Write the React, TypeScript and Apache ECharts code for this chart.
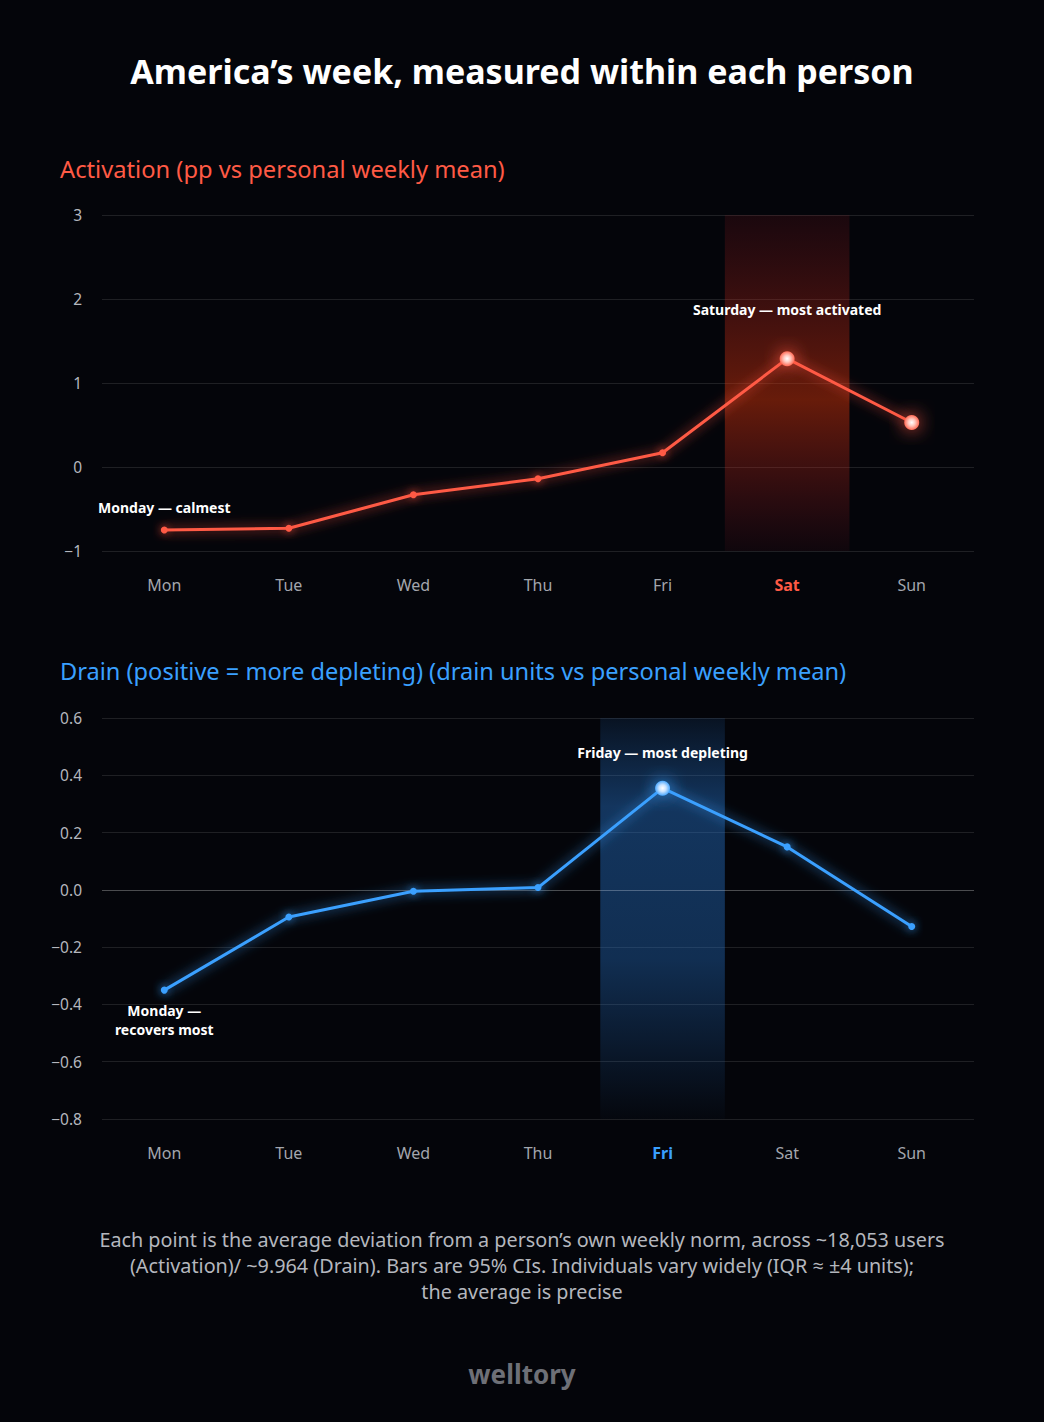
import React, { useEffect, useRef } from 'react';
import * as echarts from 'echarts';

const days = ['Mon', 'Tue', 'Wed', 'Thu', 'Fri', 'Sat', 'Sun'];
const activation = [-0.75, -0.73, -0.33, -0.14, 0.17, 1.29, 0.53];
const drain = [-0.35, -0.095, -0.005, 0.008, 0.355, 0.15, -0.128];
const activationTicks = [-1, 0, 1, 2, 3];
const drainTicks = [-0.8, -0.6, -0.4, -0.2, 0.0, 0.2, 0.4, 0.6];
const activationPeak = 'Sat';
const drainPeak = 'Fri';
const activationBig = ['Sat', 'Sun'];
const drainBig = ['Fri'];
const activationNotes = [
  { day: 'Sat', text: 'Saturday — most activated', pos: 'top' },
  { day: 'Mon', text: 'Monday — calmest', pos: 'top' },
];
const drainNotes = [
  { day: 'Fri', text: 'Friday — most depleting', pos: 'top' },
  { day: 'Mon', text: 'Monday —\nrecovers most', pos: 'bottom' },
];

const TITLE = 'America’s week, measured within each person';
const SUB1 = 'Activation (pp vs personal weekly mean)';
const SUB2 = 'Drain (positive = more depleting) (drain units vs personal weekly mean)';
const FOOT = [
  'Each point is the average deviation from a person’s own weekly norm, across ~18,053 users',
  '(Activation)/ ~9.964 (Drain). Bars are 95% CIs. Individuals vary widely (IQR ≈ ±4 units);',
  'the average is precise',
];
const BRAND = 'welltory';

const FONT = '"Noto Sans", "Open Sans", sans-serif';
const RED = '#ff5a45';
const BLUE = '#3aa0ff';

const fmtNum = (dec: number) => (v: number) => {
  const s = Math.abs(v).toFixed(dec);
  return v < -1e-9 ? '−' + s : s;
};

function buildPoints(values: number[], color: string, big: string[], notes: any[], bigStops: any[], distTop: number[]) {
  return values.map((v, i) => {
    const d = days[i];
    const isBig = big.includes(d);
    const note = notes.find((n) => n.day === d);
    const item: any = { value: v };
    if (isBig) {
      item.symbolSize = 15;
      item.itemStyle = {
        color: { type: 'radial', x: 0.5, y: 0.5, r: 0.5, colorStops: bigStops },
        shadowBlur: 18,
        shadowColor: color,
      };
    }
    if (note) {
      item.label = {
        show: true,
        position: note.pos,
        distance: note.pos === 'top' ? (isBig ? distTop[0] : distTop[1]) : 7,
        formatter: note.text,
        color: '#ffffff',
        fontWeight: 'bold',
        fontSize: 14,
        lineHeight: 19,
        fontFamily: FONT,
        align: 'center',
      };
    }
    return item;
  });
}

function axisStep(t: number[]) {
  return Math.round((t[1] - t[0]) * 1000) / 1000;
}

export default function App() {
  const ref = useRef<HTMLDivElement>(null);
  useEffect(() => {
    document.body.style.margin = '0';
    document.body.style.background = '#04050a';
    if (!ref.current) return;
    const chart = echarts.init(ref.current, null, { renderer: 'svg' });

    const catAxis = (grid: number, peak: string, hl: string) => ({
      type: 'category',
      gridIndex: grid,
      data: days,
      boundaryGap: true,
      axisLine: { show: false },
      axisTick: { show: false },
      splitLine: { show: false },
      axisLabel: {
        margin: 26,
        color: '#a3a6ad',
        fontSize: 16,
        fontFamily: FONT,
        formatter: (v: string) => (v === peak ? `{hl|${v}}` : v),
        rich: { hl: { color: hl, fontWeight: 'bold', fontSize: 16, fontFamily: FONT } },
      },
    });
    const hiddenAxis = (grid: number) => ({
      type: 'value',
      gridIndex: grid,
      min: -0.5,
      max: days.length - 0.5,
      show: false,
    });
    const valAxis = (grid: number, ticks: number[], dec: number) => ({
      type: 'value',
      gridIndex: grid,
      min: ticks[0],
      max: ticks[ticks.length - 1],
      interval: axisStep(ticks),
      axisLine: { show: false },
      axisTick: { show: false },
      splitLine: { lineStyle: { color: 'rgba(255,255,255,0.11)', width: 1 } },
      axisLabel: {
        margin: 20,
        color: '#b4b7be',
        fontSize: 15.5,
        fontFamily: FONT,
        formatter: fmtNum(dec),
      },
    });

    const band = (xIdx: number, yIdx: number, peak: string, ticks: number[], stops: any[]) => {
      const i = days.indexOf(peak);
      return {
        type: 'line',
        xAxisIndex: xIdx,
        yAxisIndex: yIdx,
        data: [[i, ticks[0]]],
        symbol: 'none',
        lineStyle: { width: 0 },
        silent: true,
        z: 1,
        markArea: {
          silent: true,
          itemStyle: { color: { type: 'linear', x: 0, y: 0, x2: 0, y2: 1, colorStops: stops } },
          data: [[{ xAxis: i - 0.5, yAxis: ticks[ticks.length - 1] }, { xAxis: i + 0.5, yAxis: ticks[0] }]],
        },
      };
    };

    const lineSeries = (xIdx: number, yIdx: number, data: any[], color: string, glow: string) => ({
      type: 'line',
      xAxisIndex: xIdx,
      yAxisIndex: yIdx,
      data,
      z: 5,
      symbol: 'circle',
      symbolSize: 7,
      itemStyle: { color, shadowBlur: 8, shadowColor: glow },
      lineStyle: { color, width: 3, shadowBlur: 12, shadowColor: glow },
    });

    const redStops = [
      { offset: 0, color: '#ffffff' },
      { offset: 0.45, color: '#ffc9bf' },
      { offset: 1, color: '#ff6a55' },
    ];
    const blueStops = [
      { offset: 0, color: '#ffffff' },
      { offset: 0.45, color: '#cde5ff' },
      { offset: 1, color: '#4aa8ff' },
    ];

    const actData = buildPoints(activation, RED, activationBig, activationNotes, redStops, [32, 10]);
    const drnData = buildPoints(drain, BLUE, drainBig, drainNotes, blueStops, [19, 10]);

    const drainLine: any = lineSeries(1, 1, drnData, BLUE, 'rgba(58,160,255,0.85)');
    drainLine.markLine = {
      silent: true,
      symbol: 'none',
      label: { show: false },
      lineStyle: { color: 'rgba(255,255,255,0.2)', width: 1, type: 'solid', shadowBlur: 0 },
      data: [{ yAxis: 0 }],
    };

    const option: any = {
      animation: false,
      backgroundColor: '#04050a',
      grid: [
        { left: 102, top: 215, width: 872, height: 336 },
        { left: 102, top: 718, width: 872, height: 401 },
      ],
      xAxis: [catAxis(0, activationPeak, RED), catAxis(1, drainPeak, BLUE), hiddenAxis(0), hiddenAxis(1)],
      yAxis: [valAxis(0, activationTicks, 0), valAxis(1, drainTicks, 1)],
      series: [
        band(2, 0, activationPeak, activationTicks, [
          { offset: 0, color: 'rgba(190,30,40,0.12)' },
          { offset: 0.55, color: 'rgba(225,55,10,0.45)' },
          { offset: 1, color: 'rgba(190,30,50,0.06)' },
        ]),
        band(3, 1, drainPeak, drainTicks, [
          { offset: 0, color: 'rgba(40,120,210,0.12)' },
          { offset: 0.22, color: 'rgba(40,120,210,0.42)' },
          { offset: 0.6, color: 'rgba(40,120,210,0.36)' },
          { offset: 1, color: 'rgba(40,120,210,0.02)' },
        ]),
        lineSeries(0, 0, actData, RED, 'rgba(255,80,60,0.85)'),
        drainLine,
      ],
      graphic: [
        {
          type: 'text', left: 'center', top: 54,
          style: { text: TITLE, fill: '#ffffff', fontSize: 34, fontWeight: 'bold', fontFamily: FONT },
        },
        {
          type: 'text', left: 60, top: 157,
          style: { text: SUB1, fill: RED, fontSize: 23.7, fontFamily: FONT },
        },
        {
          type: 'text', left: 60, top: 659,
          style: { text: SUB2, fill: BLUE, fontSize: 23.6, fontFamily: FONT },
        },
        {
          type: 'text', x: 522, y: 1226,
          style: {
            text: FOOT.join('\n'), fill: '#b4b7be', fontSize: 19.8, lineHeight: 26,
            align: 'center', verticalAlign: 'top', fontFamily: FONT,
          },
        },
        {
          type: 'text', left: 'center', top: 1361,
          style: { text: BRAND, fill: '#6e7077', fontSize: 26, fontWeight: 'bold', fontFamily: FONT },
        },
      ],
    };
    chart.setOption(option);
    return () => chart.dispose();
  }, []);
  return <div ref={ref} style={{ width: 1044, height: 1422 }} />;
}
